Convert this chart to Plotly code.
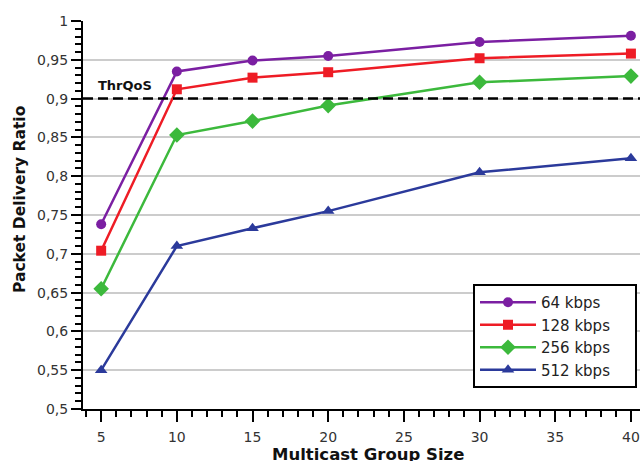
import plotly.graph_objects as go

group_size = [5, 10, 15, 20, 30, 40]
pdr_64 = [0.738, 0.935, 0.949, 0.955, 0.973, 0.981]
pdr_128 = [0.704, 0.912, 0.927, 0.934, 0.952, 0.958]
pdr_256 = [0.655, 0.853, 0.871, 0.891, 0.921, 0.929]
pdr_512 = [0.550, 0.710, 0.733, 0.755, 0.805, 0.823]
series_names = ["64 kbps", "128 kbps", "256 kbps", "512 kbps"]
thr_qos = 0.9
x_ticks = [5, 10, 15, 20, 25, 30, 35, 40]
y_ticks = [0.5, 0.55, 0.6, 0.65, 0.7, 0.75, 0.8, 0.85, 0.9, 0.95, 1.0]
y_tick_text = ["0,5", "0,55", "0,6", "0,65", "0,7", "0,75", "0,8", "0,85", "0,9", "0,95", "1"]

colors = ["#7b1fa2", "#ee1c25", "#3cb93c", "#2b3a9b"]
symbols = ["circle", "square", "diamond", "triangle-up"]
sizes = [10, 10, 12, 11]
pad = "\u00a0" * 4

fig = go.Figure()
for name, vals, c, s, sz in zip(series_names, [pdr_64, pdr_128, pdr_256, pdr_512], colors, symbols, sizes):
    fig.add_trace(go.Scatter(x=group_size, y=vals, mode="lines+markers", name=name + pad,
                             line=dict(color=c, width=2.5),
                             marker=dict(color=c, symbol=s, size=sz)))

fig.add_shape(type="line", xref="paper", yref="y", x0=0, x1=1, y0=thr_qos, y1=thr_qos,
              line=dict(color="black", width=2.5, dash="10px,5px"), layer="above")
fig.add_annotation(x=6.6, y=0.917, xref="x", yref="y", text="<b>ThrQoS</b>", showarrow=False,
                   font=dict(family="DejaVu Sans", size=13, color="#111"))
fig.add_annotation(x=-63 / 557, y=(409 - 200) / 388, xref="paper", yref="paper",
                   text="<b>Packet Delivery Ratio</b>", textangle=-90, showarrow=False,
                   xanchor="center", yanchor="middle",
                   font=dict(family="DejaVu Sans", size=15.5, color="#111"))
fig.add_annotation(x=(368 - 83) / 557, y=(409 - 454) / 388, xref="paper", yref="paper",
                   text="<b>Multicast Group Size</b>", showarrow=False,
                   xanchor="center", yanchor="middle",
                   font=dict(family="DejaVu Sans", size=16.5, color="#111"))

fig.update_layout(
    width=642, height=461,
    margin=dict(l=83, r=2, t=21, b=52, autoexpand=False),
    paper_bgcolor="white", plot_bgcolor="white",
    font=dict(family="DejaVu Sans", size=14, color="#333"),
    showlegend=True,
    legend=dict(x=(473 - 83) / 557, y=(409 - 284) / 388, xanchor="left", yanchor="top",
                bordercolor="black", borderwidth=2, bgcolor="white",
                font=dict(size=15, color="#222"), tracegroupgap=0, itemwidth=56),
)
fig.update_xaxes(range=[3.8, 40.6], tickvals=x_ticks, showgrid=False, zeroline=False, automargin=False,
                 showline=True, linecolor="black", linewidth=2,
                 ticks="outside", ticklen=11, tickwidth=2, tickcolor="black", ticklabelstandoff=3,
                 minor=dict(dtick=1, tick0=0, ticks="outside", ticklen=6, tickwidth=1.5, tickcolor="black"))
fig.update_yaxes(range=[0.5, 1.0], tickvals=y_ticks, ticktext=y_tick_text, automargin=False,
                 showgrid=True, gridcolor="#cccccc", gridwidth=1.5, zeroline=False,
                 showline=True, linecolor="black", linewidth=2,
                 ticks="outside", ticklen=10, tickwidth=2, tickcolor="black",
                 minor=dict(dtick=0.01, tick0=0, ticks="outside", ticklen=6, tickwidth=1.5, tickcolor="black", showgrid=False))

fig.write_html("out.html", config={"displayModeBar": False},
               post_script="document.body.style.margin='0';document.body.style.overflow='hidden';")
